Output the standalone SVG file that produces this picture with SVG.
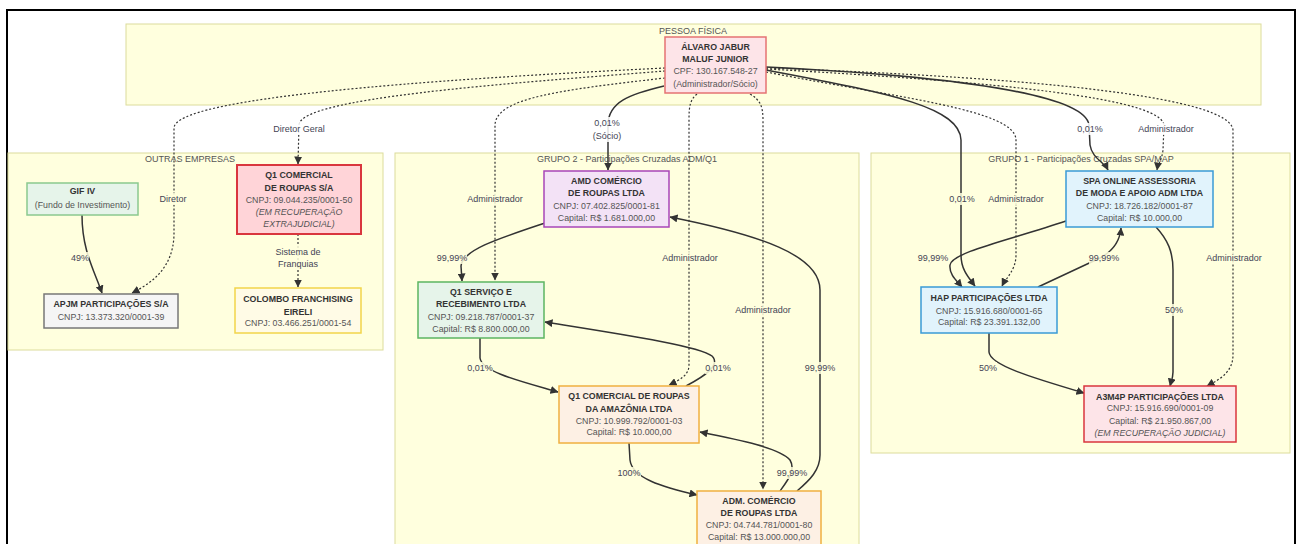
<svg xmlns="http://www.w3.org/2000/svg" width="1301" height="544" viewBox="0 0 1301 544">
<defs>
<style>
.cl{fill:#ffffde;stroke:#dcdc9c;stroke-width:1}
.ct{font-family:"Liberation Sans",Arial,sans-serif;font-size:9px;fill:#555;text-anchor:middle;dominant-baseline:central}
.nt{font-family:"Liberation Sans",Arial,sans-serif;font-size:8.8px;fill:#555;text-anchor:middle;dominant-baseline:central}
.b{font-weight:bold;fill:#333}
.i{font-style:italic}
.e{fill:none;stroke:#333;stroke-width:1.5}
.d{fill:none;stroke:#333;stroke-width:1.2;stroke-dasharray:2 2}
.lt{font-family:"Liberation Sans",Arial,sans-serif;font-size:9px;fill:#445;text-anchor:middle;dominant-baseline:central}
.lbw{fill:#ffffff;opacity:0.85}
.lby{fill:#ffffde;opacity:0.85}
</style>
<marker id="ar" viewBox="0 0 8 8" refX="7.5" refY="4" markerWidth="8" markerHeight="8" markerUnits="userSpaceOnUse" orient="auto">
<path d="M0,0 L8,4 L0,8 z" fill="#333"/>
</marker>
</defs>
<rect x="0" y="0" width="1301" height="544" fill="#ffffff"/>
<path d="M7,548 L7,10 L1295,10 L1295,548" fill="none" stroke="#000" stroke-width="2"/>

<g id="clusters">
<g id="cl-pessoa"><rect class="cl" x="126" y="24" width="1135" height="81"/><text class="ct" x="693" y="31">PESSOA FÍSICA</text></g>
<g id="cl-outras"><rect class="cl" x="8" y="153" width="375" height="197"/><text class="ct" x="190" y="159">OUTRAS EMPRESAS</text></g>
<g id="cl-grupo2"><rect class="cl" x="395" y="153" width="464" height="400"/><text class="ct" x="627" y="159">GRUPO 2 - Participações Cruzadas ADM/Q1</text></g>
<g id="cl-grupo1"><rect class="cl" x="871" y="153" width="419" height="300"/><text class="ct" x="1081" y="159">GRUPO 1 - Participações Cruzadas SPA/MAP</text></g>
</g>

<g id="connectors">
<path class="e" d="M664,86 C630,94 608,102 608,125 L608,170" marker-end="url(#ar)"/>
<path class="d" d="M697,94 C690,100 689,106 689,120 L689,365 C689,375 680,380 669,385" marker-end="url(#ar)"/>
<path class="d" d="M750,94 C760,100 763,106 763,120 L763,489" marker-end="url(#ar)"/>
<path class="d" d="M665,78 C560,90 496,98 495,125 L495,280" marker-end="url(#ar)"/>
<path class="d" d="M665,71 C500,84 300,98 299,125 L298,164" marker-end="url(#ar)"/>
<path class="d" d="M665,68 C420,80 175,98 174,128 L174,235 C173,268 152,283 132,293" marker-end="url(#ar)"/>
<path class="e" d="M766,70 C880,92 960,105 961,140 L961,255 C961,270 969,278 975,286" marker-end="url(#ar)"/>
<path class="d" d="M766,72 C900,98 1016,110 1016,140 L1016,255 C1016,270 1006,278 1002,286" marker-end="url(#ar)"/>
<path class="e" d="M766,67 C950,76 1085,94 1089,125 L1090,145 C1092,158 1104,162 1108,170" marker-end="url(#ar)"/>
<path class="d" d="M766,69 C1000,82 1160,98 1164,125 L1163,150 C1162,160 1158,163 1157,170" marker-end="url(#ar)"/>
<path class="d" d="M766,68 C1050,78 1230,98 1233,130 L1233,355 C1233,374 1216,381 1207,386" marker-end="url(#ar)"/>
<path class="e" d="M82,215 C82,250 94,270 102,293" marker-end="url(#ar)"/>
<path class="d" d="M298,234 L298,287" marker-end="url(#ar)"/>
<path class="e" d="M545,223 C500,238 462,250 461,266 L462,281" marker-end="url(#ar)"/>
<path class="e" d="M480,338 L480,358 C482,372 520,381 558,392" marker-end="url(#ar)"/>
<path class="e" d="M686,386 C705,376 721,365 712,356 C700,346 620,334 545,322" marker-end="url(#ar)"/>
<path class="e" d="M629,443 L630,460 C632,478 662,487 697,495" marker-end="url(#ar)"/>
<path class="e" d="M780,491 C788,480 796,470 790,460 C780,448 740,440 700,432" marker-end="url(#ar)"/>
<path class="e" d="M797,491 C810,480 820,470 820,455 L820,290 C820,255 760,235 670,217" marker-end="url(#ar)"/>
<path class="e" d="M1066,221 C1010,240 952,252 950,265 C949,275 957,281 962,287" marker-end="url(#ar)"/>
<path class="e" d="M1038,287 L1100,258 C1115,250 1120,240 1121,228" marker-end="url(#ar)"/>
<path class="e" d="M1156,227 C1168,240 1173,252 1173,270 L1173,372 C1173,378 1171,382 1170,386" marker-end="url(#ar)"/>
<path class="e" d="M989,333 L989,352 C990,365 1030,377 1084,393" marker-end="url(#ar)"/>

<g id="edge-labels">
<rect class="lbw" x="273" y="123" width="52" height="12"/><text class="lt" x="299" y="129">Diretor Geral</text>
<rect class="lbw" x="593" y="117" width="28" height="25"/><text class="lt" x="607" y="123">0,01%</text><text class="lt" x="607" y="136">(Sócio)</text>
<rect class="lbw" x="1077" y="123" width="26" height="12"/><text class="lt" x="1090" y="129">0,01%</text>
<rect class="lbw" x="1138" y="123" width="56" height="12"/><text class="lt" x="1166" y="129">Administrador</text>
<rect class="lby" x="159" y="193" width="28" height="12"/><text class="lt" x="173" y="199">Diretor</text>
<rect class="lby" x="467" y="193" width="56" height="12"/><text class="lt" x="495" y="199">Administrador</text>
<rect class="lby" x="949" y="193" width="26" height="12"/><text class="lt" x="962" y="199">0,01%</text>
<rect class="lby" x="988" y="193" width="56" height="12"/><text class="lt" x="1016" y="199">Administrador</text>
<rect class="lby" x="71" y="252" width="18" height="12"/><text class="lt" x="80" y="258">49%</text>
<rect class="lby" x="278" y="246" width="40" height="24"/><text class="lt" x="298" y="252">Sistema de</text><text class="lt" x="298" y="264">Franquias</text>
<rect class="lby" x="437" y="252" width="30" height="12"/><text class="lt" x="452" y="258">99,99%</text>
<rect class="lby" x="662" y="252" width="56" height="12"/><text class="lt" x="690" y="258">Administrador</text>
<rect class="lby" x="735" y="304" width="56" height="12"/><text class="lt" x="763" y="310">Administrador</text>
<rect class="lby" x="467" y="362" width="26" height="12"/><text class="lt" x="480" y="368">0,01%</text>
<rect class="lby" x="705" y="362" width="26" height="12"/><text class="lt" x="718" y="368">0,01%</text>
<rect class="lby" x="805" y="362" width="30" height="12"/><text class="lt" x="820" y="368">99,99%</text>
<rect class="lby" x="617" y="467" width="24" height="12"/><text class="lt" x="629" y="473">100%</text>
<rect class="lby" x="777" y="467" width="30" height="12"/><text class="lt" x="792" y="473">99,99%</text>
<rect class="lby" x="918" y="252" width="30" height="12"/><text class="lt" x="933" y="258">99,99%</text>
<rect class="lby" x="1089" y="252" width="30" height="12"/><text class="lt" x="1104" y="258">99,99%</text>
<rect class="lby" x="1206" y="252" width="56" height="12"/><text class="lt" x="1234" y="258">Administrador</text>
<rect class="lby" x="1165" y="304" width="18" height="12"/><text class="lt" x="1174" y="310">50%</text>
<rect class="lby" x="979" y="362" width="18" height="12"/><text class="lt" x="988" y="368">50%</text>
</g>
</g>

<g id="n-alvaro"><rect x="665" y="37" width="101" height="56" fill="#fde4e8" stroke="#e57373" stroke-width="1.5"/>
<text class="nt b" x="715.5" y="47">ÁLVARO JABUR</text><text class="nt b" x="715.5" y="59">MALUF JUNIOR</text>
<text class="nt" x="715.5" y="71">CPF: 130.167.548-27</text><text class="nt" x="715.5" y="84">(Administrador/Sócio)</text></g>

<g id="n-gif"><rect x="27" y="183" width="111" height="32" fill="#e6f4ea" stroke="#8bc98f" stroke-width="1.5"/>
<text class="nt b" x="82.5" y="191">GIF IV</text><text class="nt" x="82.5" y="205">(Fundo de Investimento)</text></g>

<g id="n-q1sa"><rect x="237" y="165" width="124" height="69" fill="#ffd4d8" stroke="#d9363e" stroke-width="2"/>
<text class="nt b" x="299" y="175">Q1 COMERCIAL</text><text class="nt b" x="299" y="188">DE ROUPAS S/A</text>
<text class="nt" x="299" y="200">CNPJ: 09.044.235/0001-50</text><text class="nt i" x="299" y="212">(EM RECUPERAÇÃO</text><text class="nt i" x="299" y="224">EXTRAJUDICIAL)</text></g>

<g id="n-apjm"><rect x="44" y="294" width="134" height="34" fill="#f5f5f5" stroke="#777" stroke-width="1.5"/>
<text class="nt b" x="111" y="304">APJM PARTICIPAÇÕES S/A</text><text class="nt" x="111" y="317">CNPJ: 13.373.320/0001-39</text></g>

<g id="n-colombo"><rect x="235" y="288" width="126" height="45" fill="#fffbe6" stroke="#f2d54a" stroke-width="1.5"/>
<text class="nt b" x="298" y="299">COLOMBO FRANCHISING</text><text class="nt b" x="298" y="312">EIRELI</text>
<text class="nt" x="298" y="323">CNPJ: 03.466.251/0001-54</text></g>

<g id="n-amd"><rect x="544" y="171" width="125" height="56" fill="#f3e2f6" stroke="#a845b8" stroke-width="1.5"/>
<text class="nt b" x="606.5" y="181">AMD COMÉRCIO</text><text class="nt b" x="606.5" y="193">DE ROUPAS LTDA</text>
<text class="nt" x="606.5" y="206">CNPJ: 07.402.825/0001-81</text><text class="nt" x="606.5" y="218">Capital: R$ 1.681.000,00</text></g>

<g id="n-q1serv"><rect x="418" y="282" width="126" height="56" fill="#e6f4ea" stroke="#5cb562" stroke-width="1.5"/>
<text class="nt b" x="481" y="292">Q1 SERVIÇO E</text><text class="nt b" x="481" y="304">RECEBIMENTO LTDA</text>
<text class="nt" x="481" y="317">CNPJ: 09.218.787/0001-37</text><text class="nt" x="481" y="329">Capital: R$ 8.800.000,00</text></g>

<g id="n-q1amz"><rect x="559" y="386" width="140" height="57" fill="#fdf0e4" stroke="#f0b040" stroke-width="1.5"/>
<text class="nt b" x="629" y="396">Q1 COMERCIAL DE ROUPAS</text><text class="nt b" x="629" y="409">DA AMAZÔNIA LTDA</text>
<text class="nt" x="629" y="421">CNPJ: 10.999.792/0001-03</text><text class="nt" x="629" y="432">Capital: R$ 10.000,00</text></g>

<g id="n-adm"><rect x="697" y="491" width="124" height="60" fill="#fdf0e4" stroke="#f0b040" stroke-width="1.5"/>
<text class="nt b" x="759" y="501">ADM. COMÉRCIO</text><text class="nt b" x="759" y="513">DE ROUPAS LTDA</text>
<text class="nt" x="759" y="525">CNPJ: 04.744.781/0001-80</text><text class="nt" x="759" y="537">Capital: R$ 13.000.000,00</text></g>

<g id="n-spa"><rect x="1066" y="171" width="147" height="56" fill="#e1f3fc" stroke="#3a9bd6" stroke-width="1.5"/>
<text class="nt b" x="1139.5" y="181">SPA ONLINE ASSESSORIA</text><text class="nt b" x="1139.5" y="193">DE MODA E APOIO ADM LTDA</text>
<text class="nt" x="1139.5" y="206">CNPJ: 18.726.182/0001-87</text><text class="nt" x="1139.5" y="218">Capital: R$ 10.000,00</text></g>

<g id="n-hap"><rect x="921" y="287" width="136" height="46" fill="#e1f3fc" stroke="#3a9bd6" stroke-width="1.5"/>
<text class="nt b" x="989" y="298">HAP PARTICIPAÇÕES LTDA</text><text class="nt" x="989" y="311">CNPJ: 15.916.680/0001-65</text>
<text class="nt" x="989" y="322">Capital: R$ 23.391.132,00</text></g>

<g id="n-a3m4p"><rect x="1084" y="386" width="152" height="56" fill="#fde4e8" stroke="#d9363e" stroke-width="1.5"/>
<text class="nt b" x="1160" y="397">A3M4P PARTICIPAÇÕES LTDA</text><text class="nt" x="1160" y="408">CNPJ: 15.916.690/0001-09</text>
<text class="nt" x="1160" y="421">Capital: R$ 21.950.867,00</text><text class="nt i" x="1160" y="433">(EM RECUPERAÇÃO JUDICIAL)</text></g>
</svg>
